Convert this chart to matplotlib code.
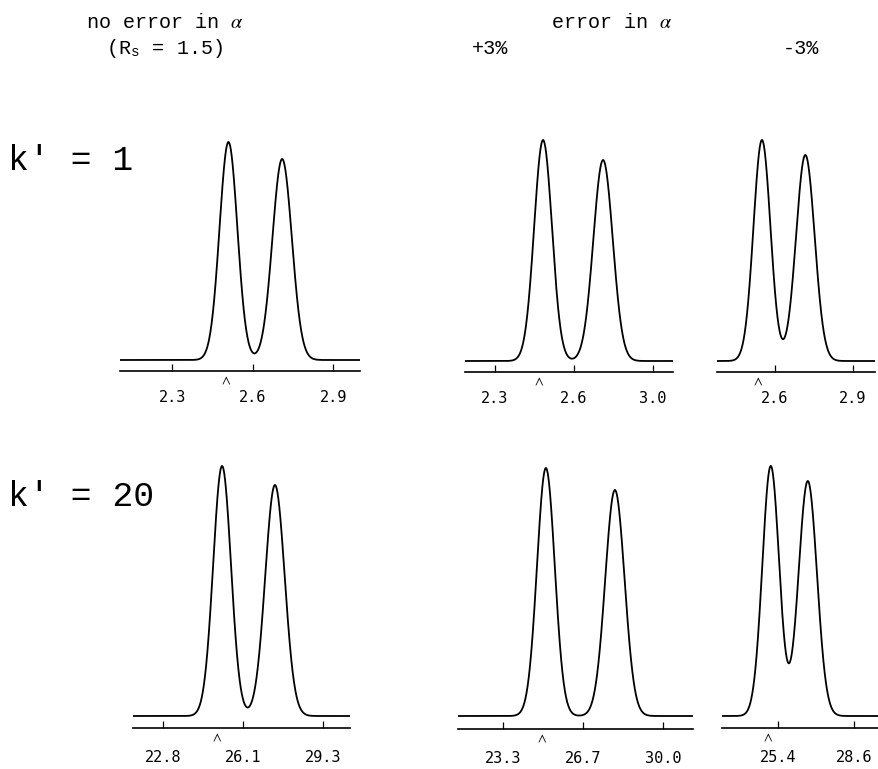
import numpy as np
import matplotlib.pyplot as plt

plt.rcParams['mathtext.fontset'] = 'stix'

# ---- data ----
# each panel: tick positions + labels, peak centres / heights / widths, injection mark, x range
tick_pos = [[2.3, 2.6, 2.9], [2.3, 2.65, 3.0], [2.6, 2.9],
            [22.8, 26.05, 29.3], [23.3, 26.65, 30.0], [25.4, 28.6]]
tick_lab = [['2.3', '2.6', '2.9'], ['2.3', '2.6', '3.0'], ['2.6', '2.9'],
            ['22.8', '26.1', '29.3'], ['23.3', '26.7', '30.0'], ['25.4', '28.6']]
x_range = [(2.106, 3.0), (2.167, 3.089), (2.377, 2.985),
           (21.58, 30.4), (21.42, 31.26), (23.07, 29.64)]
peak_t = [(2.51, 2.71), (2.513, 2.779), (2.55, 2.717),
          (25.2, 27.35), (25.10, 27.99), (25.11, 26.66)]
peak_h = [(218, 201), (221, 201), (221, 206),
          (250, 231), (248, 226), (250, 235)]
peak_w = [(0.0332, 0.0362), (0.0395, 0.0430), (0.0327, 0.0358),
          (0.362, 0.395), (0.372, 0.405), (0.352, 0.384)]
mark_t = [2.50, 2.495, 2.535, 25.0, 24.93, 24.98]

# panel boxes in pixels: left, right, axis-line y, baseline y, top y
boxes = [(120, 360, 371, 360, 120), (465, 673, 372, 361, 120), (717, 875, 372, 361, 120),
         (133, 350, 728, 716, 450), (458, 693, 729, 716, 450), (722, 879, 728, 716, 450)]

W, H = 879, 769
fig = plt.figure(figsize=(W / 100, H / 100), dpi=100)

for i in range(6):
    l, r, ay, by, ty = boxes[i]
    ax = fig.add_axes([l / W, 1 - ay / H, (r - l) / W, (ay - ty) / H])
    t = np.linspace(x_range[i][0], x_range[i][1], 800)
    y = np.zeros_like(t)
    for c, h, s in zip(peak_t[i], peak_h[i], peak_w[i]):
        y += h * np.exp(-0.5 * ((t - c) / s) ** 2)
    ax.plot(t, y, color='black', lw=1.3)
    ax.set_xlim(x_range[i])
    ax.set_ylim(-(ay - by), by - ty)
    for sp in ['top', 'left', 'right']:
        ax.spines[sp].set_visible(False)
    ax.spines['bottom'].set_linewidth(1.2)
    ax.set_yticks([])
    ax.set_xticks(tick_pos[i])
    ax.set_xticklabels(tick_lab[i], family='DejaVu Sans Mono', fontsize=11)
    ax.tick_params(axis='x', direction='in', length=5, width=0.9,
                   pad=13.5 if i < 3 else 16)
    # injection mark under the axis line
    ax.annotate(r'$\wedge$', xy=(mark_t[i], 0), xycoords=('data', 'axes fraction'),
                xytext=(0, -6), textcoords='offset points', ha='center', va='center',
                fontsize=10)

mono = 'Liberation Mono'
fig.text(165 / W, 1 - 22 / H, r'no error in $\alpha$', family=mono, fontsize=14.5,
         ha='center', va='center')
fig.text(165 / W, 1 - 48 / H, r'(R$_\mathregular{s}$ = 1.5)', family=mono, fontsize=14.5,
         ha='center', va='center')
fig.text(612 / W, 1 - 22 / H, r'error in $\alpha$', family=mono, fontsize=14.5,
         ha='center', va='center')
fig.text(490 / W, 1 - 48 / H, '+3%', family=mono, fontsize=14.5, ha='center', va='center')
fig.text(801 / W, 1 - 48 / H, '-3%', family=mono, fontsize=14.5, ha='center', va='center')
fig.text(8 / W, 1 - 161 / H, "k' = 1", family=mono, fontsize=25, ha='left', va='center')
fig.text(8 / W, 1 - 496 / H, "k' = 20", family=mono, fontsize=25, ha='left', va='center')

fig.savefig('out.png', dpi=100)
